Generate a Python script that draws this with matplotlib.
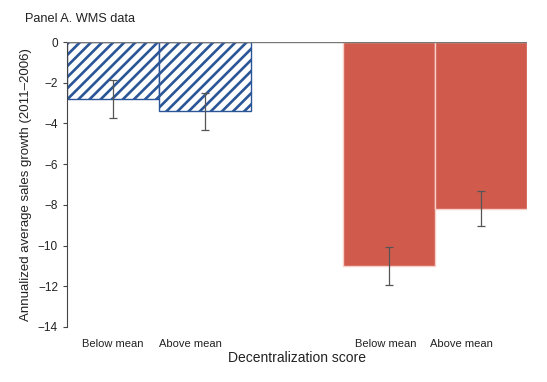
import matplotlib.pyplot as plt

plt.rcParams['font.family'] = ['Liberation Sans', 'DejaVu Sans']
plt.rcParams['hatch.linewidth'] = 1.9
plt.rcParams['hatch.color'] = '#2a5596'

# Data
categories = ['Below mean', 'Above mean', 'Below mean', 'Above mean']
values = [-2.8, -3.4, -11.0, -8.2]
errors = [0.93, 0.9, 0.93, 0.86]
positions = [0.5, 1.5, 3.5, 4.5]
label_pos = [0.5, 1.34, 3.46, 4.29]

fig = plt.figure(figsize=(5.47, 3.82), dpi=100)
ax = fig.add_axes([0.1225, 0.144, 0.841, 0.746])

# hatched blue bars
ax.bar(positions[:2], values[:2], width=1.0, color='white', edgecolor='#2a5596',
       hatch='///', linewidth=1.0, zorder=2)
# solid red bars
ax.bar(positions[2:], values[2:], width=1.0, color='#d05b4d', edgecolor='#f8d0c8',
       linewidth=1.0, zorder=2)

ax.errorbar(positions, values, yerr=errors, fmt='none', ecolor='#555555',
            elinewidth=0.9, capsize=3, capthick=0.9, zorder=3)

ax.axhline(0, color='#777777', lw=1.0, zorder=4)

ax.set_xlim(0, 5)
ax.set_ylim(-14, 0)
ax.set_yticks(range(-14, 1, 2))
ax.set_yticklabels([str(v).replace('-', '\u2212') for v in range(-14, 1, 2)])
ax.set_xticks(label_pos)
ax.set_xticklabels(categories)
ax.tick_params(axis='x', length=0, pad=9, labelsize=8, colors='#222222')
ax.tick_params(axis='y', length=3, width=0.8, colors='#444444', labelsize=8.5, labelcolor='#222222')

for s in ['top', 'right', 'bottom']:
    ax.spines[s].set_visible(False)
ax.spines['left'].set_color('#444444')
ax.spines['left'].set_linewidth(0.8)

ax.set_ylabel('Annualized average sales growth (2011\u20132006)', fontsize=9.5, color='#222222', labelpad=4)
ax.set_xlabel('Decentralization score', fontsize=10, color='#222222', labelpad=1)

fig.text(0.045, 0.965, 'Panel A. WMS data', fontsize=9.2, color='#222222', va='top')

fig.savefig('out.png', dpi=100)
